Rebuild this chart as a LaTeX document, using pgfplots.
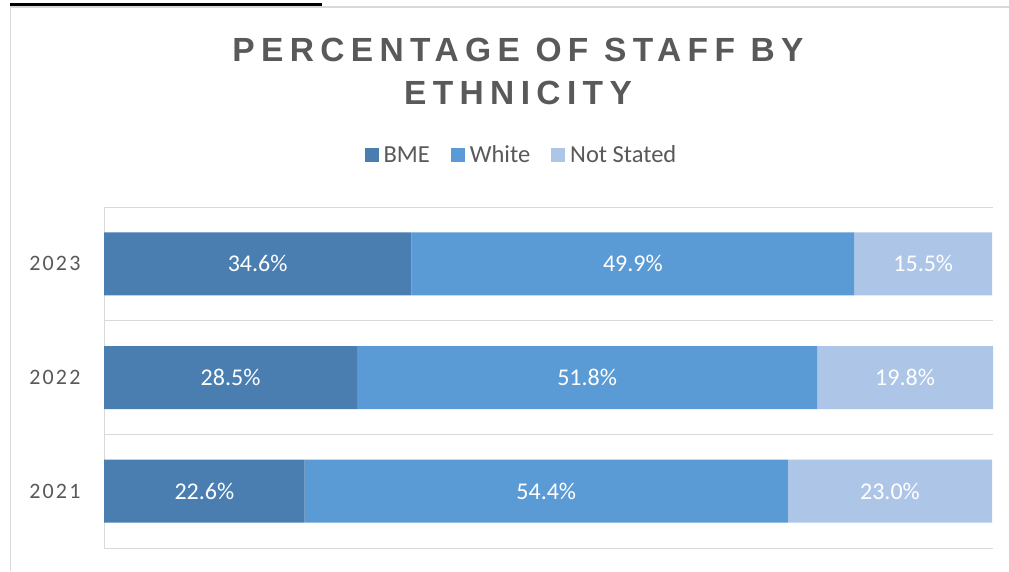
\documentclass[border=0pt]{standalone}
\usepackage{pgfplots}
\pgfplotsset{compat=1.18}
\usepackage{fontspec}
\setmainfont{Carlito}
\newfontfamily\titlefont[LetterSpace=19]{Liberation Sans}
\newfontfamily\tickfont[LetterSpace=10]{Carlito}
\definecolor{bme}{HTML}{4A7EB0}
\definecolor{whiteb}{HTML}{5B9BD5}
\definecolor{notst}{HTML}{ADC5E7}
\definecolor{txt}{HTML}{595959}
\definecolor{gridc}{HTML}{D9D9D9}
\begin{document}
\begin{tikzpicture}
\useasboundingbox (0,0) rectangle (1009pt,-571pt);
\fill[white] (0,0) rectangle (1009pt,-571pt);
\draw[gridc, line width=1.2pt] (10.5pt,-571pt) -- (10.5pt,-7pt) -- (1009pt,-7pt);
\draw[black, line width=3pt] (10pt,-4pt) -- (322pt,-4pt);
\node[anchor=base, align=center, text=txt, font=\titlefont\bfseries\fontsize{33.5}{43}\selectfont] at (518pt,-104pt) {PERCENTAGE OF STAFF BY\\ETHNICITY};
\begin{axis}[
  at={(104pt,-548pt)}, anchor=south west,
  scale only axis, width=889pt, height=341pt,
  xbar stacked, bar width=63pt,
  xmin=0, xmax=100.1, ymin=-0.5, ymax=2.5,
  axis x line=none,
  axis y line*=left,
  y axis line style={gridc, line width=1pt, -},
  ytick={0,1,2}, yticklabels={2021,2022,2023},
  major tick length=0pt,
  minor ytick={-0.5,0.5,1.5,2.5},
  yminorgrids, minor grid style={gridc, line width=1pt},
  minor tick length=0pt,
  yticklabel style={font=\tickfont\fontsize{22}{22}\selectfont, text=txt, xshift=-20pt},
  /pgf/number format/assume math mode=true,
  point meta=explicit,
  nodes near coords={\pgfmathprintnumber[fixed,fixed zerofill,precision=1]{\pgfplotspointmeta}\%},
  nodes near coords style={white, font=\fontsize{24}{24}\selectfont, anchor=center},
  legend style={at={(axis description cs:0.469,1.1525)}, anchor=center, draw=none, fill=none,
    legend columns=-1, font=\fontsize{24.5}{24.5}\selectfont, text=txt,
    nodes={inner sep=1pt},
    /tikz/every odd column/.append style={column sep=4pt},
    /tikz/every even column/.append style={column sep=20pt}},
  legend image code/.code={\fill[#1] (0pt,-7pt) rectangle (14pt,7pt);},
]
\addplot[fill=bme, draw=none] coordinates {(22.6,0) [22.6] (28.5,1) [28.5] (34.6,2) [34.6]};
\addplot[fill=whiteb, draw=none] coordinates {(54.4,0) [54.4] (51.8,1) [51.8] (49.9,2) [49.9]};
\addplot[fill=notst, draw=none] coordinates {(23.0,0) [23.0] (19.8,1) [19.8] (15.5,2) [15.5]};
\legend{BME, White, Not Stated}
\end{axis}
\end{tikzpicture}
\end{document}
